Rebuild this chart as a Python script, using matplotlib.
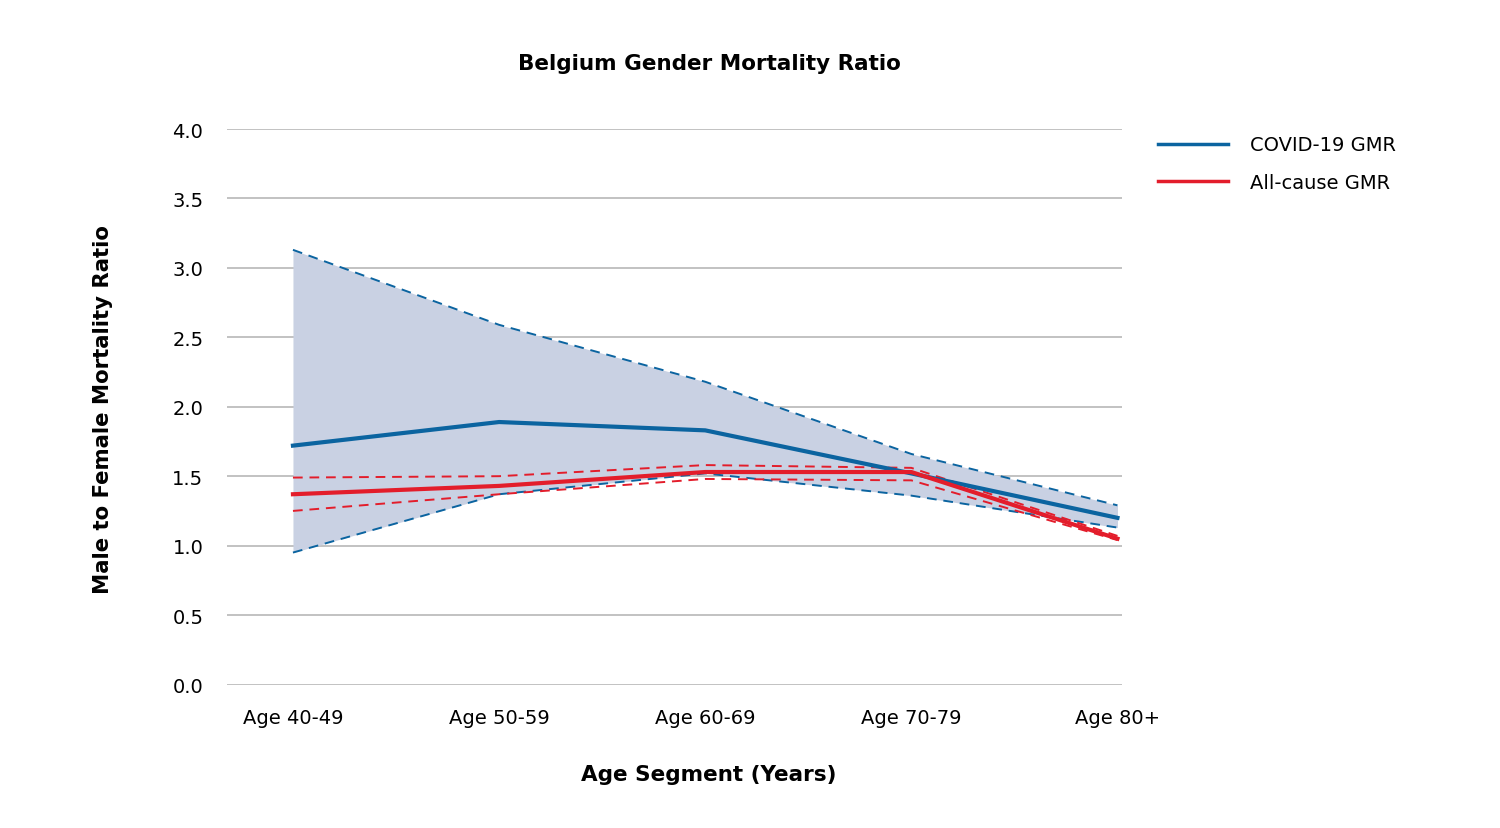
import matplotlib
matplotlib.use("Agg")
import matplotlib.pyplot as plt
from matplotlib.lines import Line2D

plt.rcParams['font.family'] = ['DejaVu Sans']

categories = ["Age 40-49", "Age 50-59", "Age 60-69", "Age 70-79", "Age 80+"]
covid_gmr = [1.72, 1.89, 1.83, 1.52, 1.20]
covid_upper = [3.13, 2.59, 2.18, 1.66, 1.29]
covid_lower = [0.95, 1.37, 1.52, 1.36, 1.13]
allcause_gmr = [1.37, 1.43, 1.53, 1.53, 1.05]
allcause_upper = [1.49, 1.50, 1.58, 1.56, 1.07]
allcause_lower = [1.25, 1.37, 1.48, 1.47, 1.04]
yticks = [0.0, 0.5, 1.0, 1.5, 2.0, 2.5, 3.0, 3.5, 4.0]

BLUE = "#0b64a0"
RED = "#e31d2b"
FILL = "#c9d1e3"

fig = plt.figure(figsize=(15, 8.29), dpi=100)
ax = fig.add_axes([227/1500, 1-685.5/829, (1122-227)/1500, (685.5-130)/829])

x = list(range(len(categories)))
ax.fill_between(x, covid_lower, covid_upper, color=FILL, lw=0, zorder=1)
for v in yticks:
    ax.axhline(v, color="#bdbdbd", lw=1.3, zorder=0.5)

dash = (0, (5, 3.5))
ax.plot(x, covid_upper, color=BLUE, lw=1.4, ls=dash, zorder=3)
ax.plot(x, covid_lower, color=BLUE, lw=1.4, ls=dash, zorder=3)
ax.plot(x, allcause_upper, color=RED, lw=1.4, ls=dash, zorder=3)
ax.plot(x, allcause_lower, color=RED, lw=1.4, ls=dash, zorder=3)
ax.plot(x, covid_gmr, color=BLUE, lw=3, zorder=4, solid_joinstyle="round")
ax.plot(x, allcause_gmr, color=RED, lw=3, zorder=4, solid_joinstyle="round")

ax.set_xlim(-0.32, 4.022)
ax.set_ylim(0, 4.0)
ax.set_yticks(yticks)
ax.set_yticklabels([f"{v:.1f}" for v in yticks], fontsize=14)
ax.set_xticks(x)
ax.set_xticklabels(categories, fontsize=14)
ax.tick_params(length=0)
ax.tick_params(axis='y', pad=17)
ax.tick_params(axis='x', pad=17)
for s in ax.spines.values():
    s.set_visible(False)

fig.text(709/1500, 1-64/829, "Belgium Gender Mortality Ratio", fontsize=15.5,
         fontweight="bold", ha="center", va="center")
fig.text(103/1500, 1-410/829, "Male to Female Mortality Ratio", fontsize=15.3,
         fontweight="bold", ha="center", va="center", rotation=90)
fig.text(709/1500, 1-775/829, "Age Segment (Years)", fontsize=15.5,
         fontweight="bold", ha="center", va="center")

handles = [Line2D([], [], color=BLUE, lw=2.5), Line2D([], [], color=RED, lw=2.5)]
fig.legend(handles, ["COVID-19 GMR", "All-cause GMR"], loc="upper left",
           bbox_to_anchor=(1140/1500, 1-119/829), frameon=False, fontsize=14,
           handlelength=3.6, handletextpad=1.15, labelspacing=0.95)

fig.savefig("out.png", dpi=100)
